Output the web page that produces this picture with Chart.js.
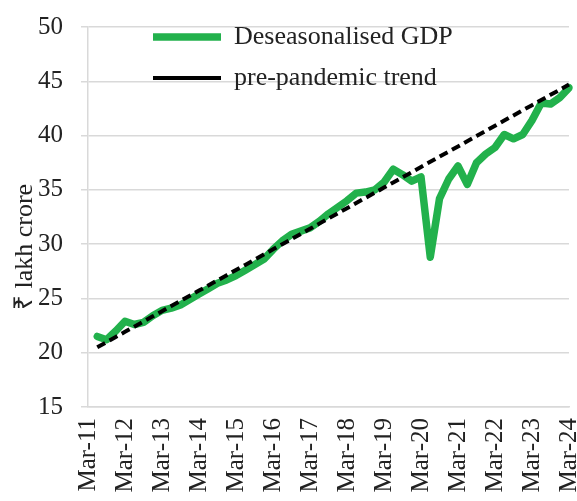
<!DOCTYPE html>
<html>
<head>
<meta charset="utf-8">
<script src="https://cdn.jsdelivr.net/npm/chart.js@4/dist/chart.umd.min.js"></script>
<style>
  html, body { margin: 0; padding: 0; background: #fff; }
  #wrap { width: 577px; height: 501px; }
</style>
</head>
<body>
<div id="wrap"><canvas id="gdpChart"></canvas></div>
<script>
// quarters Mar-11 .. Mar-24, labelled once a year
const years = ["11", "12", "13", "14", "15", "16", "17", "18", "19", "20", "21", "22", "23", "24"];
const quarterNames = ["Mar", "Jun", "Sep", "Dec"];
const yTitle = "₹ lakh crore";

// Rs lakh crore, quarterly from Jun-11 (Mar-11 has no value)
const gdp = [null,
  21.5, 21.2, 22.0, 22.9, 22.6, 22.8, 23.4, 23.9, 24.1, 24.4,
  24.9, 25.4, 25.9, 26.4, 26.7, 27.1, 27.6, 28.1, 28.6, 29.5,
  30.3, 30.9, 31.2, 31.5, 32.1, 32.8, 33.4, 34.0, 34.7, 34.8,
  35.0, 35.7, 36.9, 36.4, 35.8, 36.2, 28.8, 34.2, 36.0, 37.2,
  35.5, 37.5, 38.3, 38.9, 40.1, 39.7, 40.1, 41.4, 43.0, 42.9,
  43.5, 44.4];

const trend = [null,
  20.5, 20.97, 21.45, 21.92, 22.4, 22.87, 23.35, 23.82, 24.3, 24.77,
  25.25, 25.72, 26.19, 26.67, 27.14, 27.62, 28.09, 28.57, 29.04, 29.52,
  29.99, 30.46, 30.94, 31.41, 31.89, 32.36, 32.84, 33.31, 33.79, 34.26,
  34.73, 35.21, 35.68, 36.16, 36.63, 37.11, 37.58, 38.06, 38.53, 39.0,
  39.48, 39.95, 40.43, 40.9, 41.38, 41.85, 42.33, 42.8, 43.27, 43.75,
  44.22, 44.7];

const labels = [];
years.forEach((y, i) => {
  quarterNames.forEach((q, j) => {
    if (i < years.length - 1 || j === 0) labels.push(q + "-" + y);
  });
});

const serif = "'Liberation Serif', 'Times New Roman', serif";
const textColor = "#222";
const gridColor = "#d9d9d9";

// put the legend inside the plot, top left
const legendSpot = {
  id: "legendSpot",
  beforeDraw(chart) {
    const legend = chart.legend;
    legend.left = 153 - 15;
    legend.top = 24 - 15;
    legend.adjustHitBoxes();
  },
};

// y axis title sits a bit below the middle of the axis in the original
const yTitleSpot = {
  id: "yTitleSpot",
  afterDraw(chart) {
    const ctx = chart.ctx;
    ctx.save();
    ctx.translate(32, 247);
    ctx.rotate(-Math.PI / 2);
    ctx.font = "26px " + serif;
    ctx.fillStyle = textColor;
    ctx.textAlign = "center";
    ctx.textBaseline = "alphabetic";
    ctx.fillText(yTitle, 0, 0);
    ctx.restore();
  },
};

const chart = new Chart(document.getElementById("gdpChart").getContext("2d"), {
  type: "line",
  plugins: [legendSpot, yTitleSpot],
  data: {
    labels: labels,
    datasets: [
      {
        label: "Deseasonalised GDP",
        data: gdp,
        borderColor: "#22b14c",
        backgroundColor: "#22b14c",
        borderWidth: 7.5,
        borderJoinStyle: "round",
        borderCapStyle: "round",
        pointRadius: 0,
        tension: 0,
        order: 1,
      },
      {
        label: "pre-pandemic trend",
        data: trend,
        borderColor: "#000",
        backgroundColor: "#000",
        borderWidth: 4,
        borderDash: [9, 5],
        pointRadius: 0,
        tension: 0,
        order: 0,
      },
    ],
  },
  options: {
    responsive: true,
    maintainAspectRatio: false,
    animation: false,
    layout: {
      autoPadding: false,
      padding: { top: 27, right: 8, bottom: 0, left: 0 },
    },
    plugins: {
      tooltip: { enabled: false },
      legend: {
        position: "chartArea",
        align: "start",
        labels: {
          usePointStyle: true,
          pointStyle: "line",
          pointStyleWidth: 68,
          padding: 15,
          color: textColor,
          font: { family: serif, size: 26 },
          sort: (a, b) => a.datasetIndex - b.datasetIndex,
        },
      },
    },
    scales: {
      x: {
        afterFit: (scale) => {
          scale.height = 94;
          scale.paddingLeft = 0;
          scale.paddingRight = 0;
        },
        grid: { display: false, drawTicks: false },
        border: { display: true, color: gridColor, width: 1.5 },
        ticks: {
          autoSkip: false,
          minRotation: 90,
          maxRotation: 90,
          padding: 11,
          color: textColor,
          font: { family: serif, size: 25 },
          callback: function (value, index) {
            return index % 4 === 0 ? this.getLabelForValue(value) : "";
          },
        },
      },
      y: {
        min: 15,
        max: 50,
        afterFit: (scale) => {
          scale.width = 88;
          scale.paddingTop = 0;
          scale.paddingBottom = 0;
        },
        grid: {
          color: gridColor,
          lineWidth: 1.5,
          borderDash: [6, 4],
          tickBorderDash: [],
          tickLength: 7,
          tickColor: gridColor,
        },
        border: { display: true, color: gridColor, width: 1.5 },
        ticks: {
          stepSize: 5,
          padding: 18,
          color: textColor,
          font: { family: serif, size: 25 },
        },
        title: { display: false },
      },
    },
  },
});
</script>
</body>
</html>
